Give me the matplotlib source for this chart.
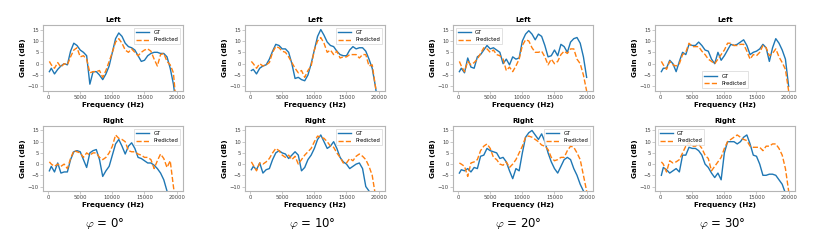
import matplotlib
matplotlib.use("Agg")
import matplotlib.pyplot as plt

freq = [200, 500, 1000, 1500, 2000, 2500, 3000, 3500, 4000, 4500, 5000, 5500, 6000, 6500,
        7000, 7500, 8000, 8500, 9000, 9500, 10000, 10500, 11000, 11500, 12000, 12500, 13000,
        13500, 14000, 14500, 15000, 15500, 16000, 16500, 17000, 17500, 18000, 18500, 19000,
        19500, 20000]

angles = ["0", "10", "20", "30"]

gt_left_0 = [-3.5, -2, -4.5, -2.5, -1, 0, -0.5, 5.5, 9, 8, 6, 5, 3.5, -9, -3.5, -3.5, -5, -7, -4.5, -1,
             5, 11, 13.5, 12, 9, 7.5, 7, 6, 3.5, 1, 1.5, 3.5, 4.5, 5, 5, 4.5, 4.5, 3, -2, -9, -20]
pr_left_0 = [1, -0.5, -2, 0.5, -1.5, 0, -0.5, 3, 6, 7, 3, 3.5, 2, -4, -3.5, -3.5, -3, -6, -3, 1,
             5, 9.5, 11, 9, 6, 5, 6.5, 5, 3.5, 5, 6, 6.5, 5.5, 2, -1, 4, 4.5, 1, -0.5, -4, -20]
gt_right_0 = [-3, -1, -3.5, 0.5, -4, -3.5, -3.5, 2, 5.5, 6, 5.5, 2, -1.5, 5, 6, 6.5, 2, -5.5, -3, -1,
              4, 9, 11, 8, 4.5, 8, 9.5, 7, 3, 2.5, 1.5, 0.5, 0.5, -0.5, -2, -4, -7, -12, -20, -20, -20]
pr_right_0 = [1, 0, -1, 0, -1, 0, -2, 2.5, 6, 5.5, 5, 3, 5, 4, 5, 5, 3, 2, 3, 5,
              8, 13, 11.5, 11, 10, 6, 5.5, 5.5, 4.5, 4, 3, 3, 2, -2, 1.5, 4.5, 2.5, -1.5, 1.5, -10, -20]

gt_left_10 = [-3, -2.5, -4.5, -2, -1, -0.5, 2, 5.5, 8.5, 8, 6.5, 6.5, 5, 0, -6.5, -6, -7, -7.5, -5, 0,
              6, 12, 15, 12.5, 9.5, 8, 7.5, 5.5, 4, 3.5, 3.5, 6, 7.5, 6.5, 7, 7, 5.5, 2, -2, -10, -20]
pr_left_10 = [1, 0, -2, 0, -1, -0.5, 0.5, 5, 7.5, 7, 5.5, 5, 3, 0.5, -2, -4, -3, -6, -3, -1,
              6, 10, 11.5, 9, 5, 6, 4, 5.5, 2.5, 3, 3, 4, 4, 4, 2.5, 4, 4, -1, -0.5, -10, -20]
gt_right_10 = [-2.5, -1, -2.5, 0.5, -4, -2.5, -2, 2, 5, 6, 5, 4.5, 2.5, 4, 5.5, 4, -3, -1.5, 2, 4,
               7, 11, 13, 10, 7, 8, 10, 7, 3, 1, 0, -2, -1, 0, 0.5, -2, -10, -12, -20, -20, -20]
pr_right_10 = [1, -0.5, -3, 0.5, 0, 1, 2.5, 5, 7, 6, 4, 3, 4, 2, 3.5, 0, 2, 4, 5.5, 7,
               10, 12.5, 12, 11.5, 10, 8, 7.5, 5, 3, 0.5, 0.5, 2.5, 1.5, 3.5, 4.5, 3.5, 2, -1, -5, -14, -20]

gt_left_20 = [-3.5, -2, -4, 2.5, -1.5, -2, 3, 4, 6, 8, 6.5, 7, 6, 5, 0, 2, -0.5, 3, 2, 2.5,
              10, 13, 14.5, 13, 10.5, 13, 12, 8, 3, 3.5, 6, 3.5, 8.5, 7.5, 5, 9.5, 11, 11.5, 9, 3, -6]
pr_left_20 = [1, -1, -3.5, 1, -0.5, 0.5, 2, 4.5, 7, 6.5, 5, 6, 4, 3.5, 2, -3, -1.5, -3.5, -1, 2,
              8, 10.5, 10, 7, 5, 5, 5.5, 3, -0.5, 2, 0, 1, 4, 5.5, 4.5, 6.5, 6.5, 2, 0, -5, -12]
gt_right_20 = [-4, -2.5, -3, -2, -3.5, -1.5, -2, 3.5, 4, 7, 6, 5.5, 5, 2.5, 3, 1, -3, -6.5, -2, -3,
               5, 12, 14, 15, 13, 11, 13.5, 10, 5, 1, -2, -4, -1, 2, 3, 2, -2, -5, -9, -12, -20]
pr_right_20 = [0.5, 0, -1, -5.5, 0.5, 1, 2, 6, 8, 9, 7, 3, 2, 0, -0.5, 1, -1.5, 0, 2, 5,
               8, 12, 12.5, 12, 11, 10, 8.5, 8, 6.5, 3, 1.5, 2, 3, 3, 6, 8, 7.5, 5, 2, -5, -12]

gt_left_30 = [-3.5, -2, -2, 1.5, 0, -3.5, 1, 5, 4, 8.5, 8, 8, 9.5, 8, 6, 5.5, 2, 0, 5, 1.5,
              3.5, 6, 8.5, 8, 8.5, 9.5, 10.5, 8, 4, 5, 5.5, 6.5, 8.5, 7, 1, 7, 11, 9, 6, 2, -10]
pr_left_30 = [1, -0.5, -2.5, 1, -0.5, -1, 0, 4, 5, 9, 7.5, 7.5, 7.5, 5.5, 4, 2, 1, 0, 2, 4,
              6, 9, 9, 8, 8, 8.5, 8.5, 5.5, 2, 4, 3.5, 5, 8, 7, 3.5, 4.5, 6.5, 3, 0.5, -2.5, -12]
gt_right_30 = [-5, -1.5, -2.5, -4, -3, -2, -3.5, 4, 4, 7.5, 7, 7, 6, 4, 0, -1.5, -4, -6, -4, -7,
               5, 10, 10, 10, 9, 10, 12, 13, 9, 4, 3.5, 0, -5, -5, -4.5, -4.5, -5, -7, -9, -13, -20]
pr_right_30 = [1, 0, -3.5, 1.5, 0.5, 1, 2, 5, 8, 9.5, 8, 8, 9, 7, 4, 2.5, -3, -1, 1, 3,
               7, 10, 11, 12, 13, 12, 11, 10.5, 8, 7.5, 7.5, 7.5, 6, 8, 8, 9, 9, 7, 4, -2, -12]

left_gt = [gt_left_0, gt_left_10, gt_left_20, gt_left_30]
left_pr = [pr_left_0, pr_left_10, pr_left_20, pr_left_30]
right_gt = [gt_right_0, gt_right_10, gt_right_20, gt_right_30]
right_pr = [pr_right_0, pr_right_10, pr_right_20, pr_right_30]

left_legend_loc = ["upper right", "upper right", "upper left", "lower center"]
right_legend_loc = ["upper right", "upper right", "upper right", "upper left"]

plt.rcParams['mathtext.fontset'] = 'cm'

W, H = 830, 249
fig = plt.figure(figsize=(W / 100, H / 100), dpi=100)

col_left = [43, 245, 453, 655]
ax_w = 140
rows = [(25, 91), (126, 191)]
label_x = [105, 312, 518, 722]

def style(ax):
    for s in ax.spines.values():
        s.set_color('#b5b5b5')
        s.set_linewidth(0.8)
    ax.tick_params(labelsize=3.8, colors='#b5b5b5', labelcolor='#444444', length=2, width=0.5, pad=1)
    ax.set_ylim(-12, 17)
    ax.set_yticks([-10, -5, 0, 5, 10, 15])
    ax.set_xticks([0, 5000, 10000, 15000, 20000])

for i in range(4):
    for r, (top, bot) in enumerate(rows):
        ax = fig.add_axes([col_left[i] / W, 1 - bot / H, ax_w / W, (bot - top) / H])
        gt = left_gt[i] if r == 0 else right_gt[i]
        pr = left_pr[i] if r == 0 else right_pr[i]
        ax.plot(freq, gt, color='#1f77b4', lw=1.0, label='GT')
        ax.plot(freq, pr, color='#ff7f0e', lw=1.0, ls='--', label='Predicted')
        style(ax)
        ax.set_title('Left' if r == 0 else 'Right', fontsize=5, fontweight='bold', pad=2)
        ax.set_xlabel('Frequency (Hz)', fontsize=5.2, fontweight='bold', labelpad=1)
        ax.set_ylabel('Gain (dB)', fontsize=5.2, fontweight='bold', labelpad=1)
        loc = left_legend_loc[i] if r == 0 else right_legend_loc[i]
        leg = ax.legend(loc=loc, fontsize=3.8, frameon=True, fancybox=False,
                        borderpad=0.4, handlelength=2.5, labelspacing=0.5)
        leg.get_frame().set_edgecolor('#cccccc')
        leg.get_frame().set_linewidth(0.5)
    fig.text(label_x[i] / W, 1 - 223 / H, r'$\varphi$ = ' + angles[i] + '°',
             fontsize=8.5, ha='center', va='center')

fig.savefig('out.png', dpi=100)
